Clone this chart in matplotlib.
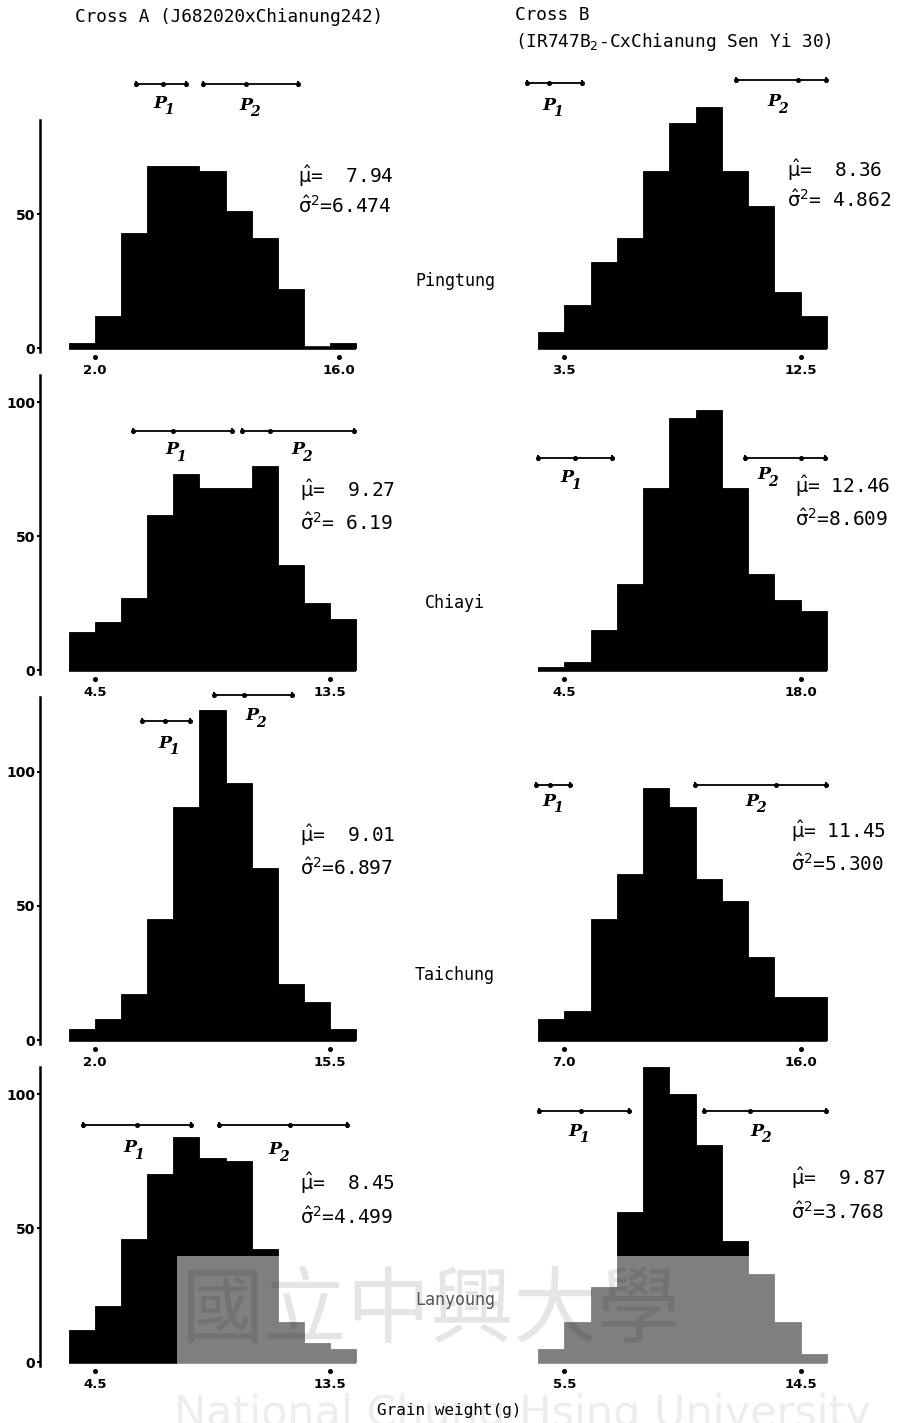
import matplotlib
matplotlib.use("Agg")
import matplotlib.pyplot as plt
from matplotlib.patches import Rectangle
import numpy as np

# ---------------- data ----------------
locations = ["Pingtung", "Chiayi", "Taichung", "Lanyoung"]

# Cross A (J682020 x Chianung242)
a_bin_start = [0.5, 3.5, 0.5, 3.5]
a_bin_width = [1.5, 1.0, 1.5, 1.0]
a_pingtung = [2, 12, 43, 68, 68, 66, 51, 41, 22, 0, 2]
a_chiayi = [14, 18, 27, 58, 73, 68, 68, 76, 39, 25, 19]
a_taichung = [4, 8, 17, 45, 87, 123, 96, 64, 21, 14, 4]
a_lanyoung = [12, 21, 46, 70, 84, 76, 75, 42, 15, 7, 5]
a_xticks = [[2.0, 16.0], [4.5, 13.5], [2.0, 15.5], [4.5, 13.5]]
a_xticklabels = [["2.0", "16.0"], ["4.5", "13.5"], ["2.0", "15.5"], ["4.5", "13.5"]]
a_mu = ["  7.94", "  9.27", "  9.01", "  8.45"]
a_var = ["6.474", " 6.19", "6.897", "4.499"]
# parental ranges: (low, mean, high, drawn height)
a_p1 = [(4.35, 5.9, 7.23, 98.5), (5.97, 7.5, 9.74, 89.0),
        (4.7, 6.02, 7.46, 119.0), (4.04, 6.11, 8.18, 88.4)]
a_p2 = [(8.2, 10.68, 13.67, 98.5), (10.12, 11.19, 14.42, 89.0),
        (8.84, 10.56, 13.32, 128.7), (9.25, 11.97, 14.16, 88.4)]

# Cross B (IR747B2-C x Chianung Sen Yi 30)
b_bin_start = [2.5, 3.0, 6.0, 4.5]
b_bin_width = [1.0, 1.5, 1.0, 1.0]
b_pingtung = [6, 16, 32, 41, 66, 84, 90, 66, 53, 21, 12]
b_chiayi = [1, 3, 15, 32, 68, 94, 97, 68, 36, 26, 22]
b_taichung = [8, 11, 45, 62, 94, 87, 60, 52, 31, 16, 16]
b_lanyoung = [5, 15, 28, 56, 110, 100, 81, 45, 33, 15, 3]
b_xticks = [[3.5, 12.5], [4.5, 18.0], [7.0, 16.0], [5.5, 14.5]]
b_xticklabels = [["3.5", "12.5"], ["4.5", "18.0"], ["7.0", "16.0"], ["5.5", "14.5"]]
b_mu = ["  8.36", " 12.46", " 11.45", "  9.87"]
b_var = [" 4.862", "8.609", "5.300", "3.768"]
b_p1 = [(2.08, 2.92, 4.17, 99.0), (3.0, 5.13, 7.2, 79.0),
        (5.92, 6.46, 7.23, 95.0), (4.54, 6.14, 7.98, 93.7)]
b_p2 = [(10.05, 12.4, 13.46, 100.0), (14.79, 18.0, 19.39, 79.0),
        (11.98, 15.05, 16.96, 95.0), (10.8, 12.56, 15.46, 93.7)]

# ---------------- layout (pixels) ----------------
W, H = 911, 1423
YS = 2.68                      # pixels per count
BOT_PAD = 5
col_ax = [(40, 365), (528, 842)]
col_edges = [(69, 356), (538, 827)]
row_base = [348, 670, 1040, 1362]
row_top = [55, 370, 686, 1058]
spine_top = [85, 110, 128, 110]
MONO = "DejaVu Sans Mono"

plt.rcParams["mathtext.fontset"] = "dejavusans"
fig = plt.figure(figsize=(W / 100, H / 100), dpi=100)
fig.patch.set_facecolor("white")


def fx(px):
    return px / W


def fy(py):
    return 1 - py / H


# faint background watermark text (behind everything)
fig.text(fx(522), fy(1414), "National Chung Hsing University", ha="center",
         va="center", fontsize=31, color="#ededed", family="DejaVu Sans",
         zorder=0)


def panel(col, row, start, width, counts, xticks, xlabels, p1, p2):
    n = len(counts)
    edges = start + width * np.arange(n + 1)
    ax0, ax1 = col_ax[col]
    e0, e1 = col_edges[col]
    base, top = row_base[row], row_top[row]
    ax = fig.add_axes([fx(ax0), fy(base + BOT_PAD), (ax1 - ax0) / W,
                       (base + BOT_PAD - top) / H])
    ax.patch.set_alpha(0)
    xs = (e1 - e0) / (n * width)
    ax.set_xlim(start - (e0 - ax0) / xs, edges[-1] + (ax1 - e1) / xs)
    ax.set_ylim(-BOT_PAD / YS, (base - top) / YS)

    ax.bar(edges[:-1], counts, width=width, align="edge", color="black",
           edgecolor="black", linewidth=0.6)
    ax.hlines(0, edges[0], edges[-1], color="black", lw=2.6)

    for s in ["top", "right", "bottom"]:
        ax.spines[s].set_visible(False)
    if col == 0:
        ax.spines["left"].set_bounds(-1.5, spine_top[row])
        ax.spines["left"].set_linewidth(1.8)
        yt = [0, 50] if spine_top[row] < 100 else [0, 50, 100]
        ax.set_yticks(yt)
        ax.set_yticklabels([str(v) for v in yt], fontsize=10, fontweight="bold")
        ax.tick_params(axis="y", length=2.5, width=1.5, pad=1)
    else:
        ax.spines["left"].set_visible(False)
        ax.set_yticks([])

    ax.set_xticks(xticks)
    ax.set_xticklabels(xlabels, fontsize=9.5, fontweight="bold")
    ax.tick_params(axis="x", length=0, pad=8)
    ax.plot(xticks, [-3.2] * len(xticks), ls="none", marker="o", ms=2.6,
            color="black", clip_on=False)

    for lo, mid, hi, h in (p1, p2):
        ax.plot([lo, hi], [h, h], color="black", lw=1.3, clip_on=False)
        ax.plot([lo, mid, hi], [h, h, h], ls="none", marker="o", ms=2.6,
                color="black", clip_on=False)
        ax.plot([lo, hi], [h, h], ls="none", marker="|", ms=5, mew=1.4,
                color="black", clip_on=False)
    return ax


a_counts = [a_pingtung, a_chiayi, a_taichung, a_lanyoung]
b_counts = [b_pingtung, b_chiayi, b_taichung, b_lanyoung]
for r in range(4):
    panel(0, r, a_bin_start[r], a_bin_width[r], a_counts[r], a_xticks[r],
          a_xticklabels[r], a_p1[r], a_p2[r])
    panel(1, r, b_bin_start[r], b_bin_width[r], b_counts[r], b_xticks[r],
          b_xticklabels[r], b_p1[r], b_p2[r])

# ---------------- texts ----------------
fig.text(fx(75), fy(17), "Cross A (J682020xChianung242)", ha="left",
         va="center", fontsize=12.8, family=MONO)
fig.text(fx(515), fy(15), "Cross B", ha="left", va="center", fontsize=12.8,
         family=MONO)
fig.text(fx(515), fy(42), r"(IR747B$_2$-CxChianung Sen Yi 30)", ha="left",
         va="center", fontsize=12.8, family=MONO)

loc_y = [281, 603, 975, 1300]
for name, yy in zip(locations, loc_y):
    fig.text(fx(455), fy(yy), name, ha="center", va="center", fontsize=12,
             family=MONO, zorder=12 if yy > 1250 else 5,
             color="#555555" if yy > 1250 else "black")

# estimates
mu_pos = [[(298, 176), (787, 170)], [(300, 490), (795, 486)],
          [(300, 835), (791, 831)], [(300, 1183), (791, 1178)]]
var_dy = [30, 33, 33, 34]
for r in range(4):
    for c, (mus, vs) in enumerate(((a_mu, a_var), (b_mu, b_var))):
        x, y = mu_pos[r][c]
        fig.text(fx(x), fy(y), r"$\hat{\mathrm{\mu}}$=" + mus[r], ha="left",
                 va="center", fontsize=14, family=MONO)
        fig.text(fx(x), fy(y + var_dy[r]), r"$\hat{\mathrm{\sigma}}^2$=" + vs[r],
                 ha="left", va="center", fontsize=14, family=MONO)

# parent labels
p_lab = [[(160, 103), (246, 105), (549, 105), (774, 102)],
         [(172, 450), (298, 450), (567, 478), (764, 475)],
         [(165, 743), (252, 716), (549, 801), (752, 801)],
         [(130, 1148), (275, 1150), (575, 1131), (757, 1131)]]
for r in range(4):
    for k, (x, y) in enumerate(p_lab[r]):
        fig.text(fx(x), fy(y), "P", ha="center", va="center", fontsize=12.5,
                 family="DejaVu Serif", fontweight="bold", style="italic")
        fig.text(fx(x + 9), fy(y + 7), "1" if k % 2 == 0 else "2", ha="center",
                 va="center", fontsize=10, family="DejaVu Serif",
                 fontweight="bold", style="italic")

fig.text(fx(449), fy(1411), "Grain weight(g)", ha="center", va="center",
         fontsize=11.5, family=MONO, zorder=5)

# ---------------- scan watermark overlay ----------------
fig.patches.append(Rectangle((fx(177), fy(1367)), (830 - 177) / W,
                             (1367 - 1256) / H, transform=fig.transFigure,
                             facecolor="white", alpha=0.5, edgecolor="none",
                             zorder=10))
fig.text(fx(430), fy(1312), "國立中興大學", ha="center", va="center",
         fontsize=60, color="black", alpha=0.10, fontweight="light",
         family=["Noto Sans CJK TC", "DejaVu Sans"], zorder=11)

fig.savefig("out.png", dpi=100, facecolor="white")
